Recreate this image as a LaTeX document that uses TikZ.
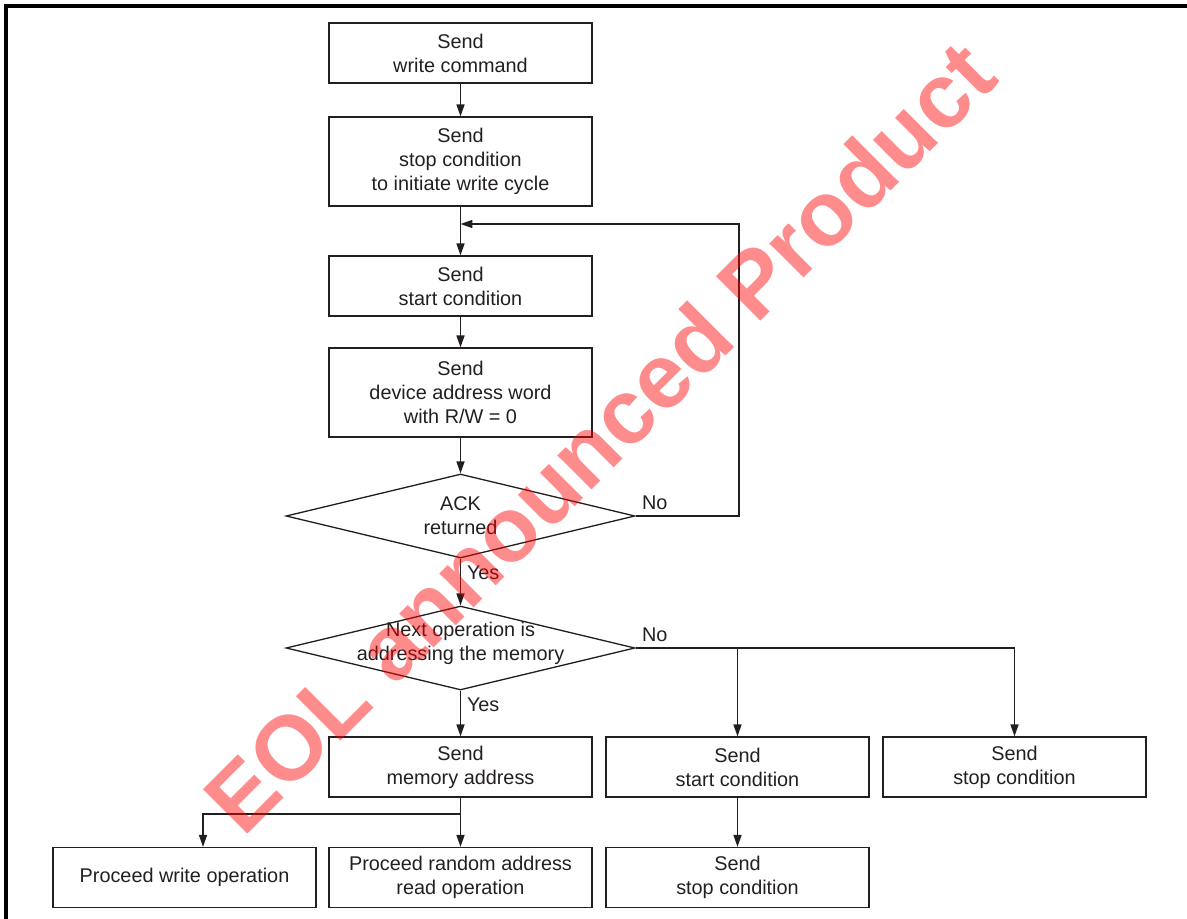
\documentclass[tikz,border=0pt]{standalone}
\usepackage{fontspec}
\setmainfont{Liberation Sans}
\usetikzlibrary{shapes.geometric,arrows.meta}
\definecolor{ink}{HTML}{231F20}
\begin{document}
\begin{tikzpicture}[x=0.02cm,y=-0.02cm,->,>={Triangle[length=6.8pt,width=4.6pt]},
  color=ink,line width=0.75pt,font=\fontsize{11.3}{13.7}\selectfont,
  box/.style={rectangle,draw,align=center,minimum width=5.26cm,minimum height=1.2cm,inner sep=2pt},
  tall box/.style={box,minimum height=1.78cm},
  decision/.style={diamond,draw,minimum width=6.98cm,minimum height=1.68cm,inner sep=0pt},
  dtext/.style={align=center,inner sep=0pt}]
  \useasboundingbox (0,0) rectangle (1187,919);
%frame
  \draw[-,line width=2.2pt,black] (6,919) -- (6,6) -- (1187,6);
%main column
  \node[box] (b1) at (460.5,53) {Send\\write command};
  \node[tall box] (b2) at (460.5,161.5) {Send\\stop condition\\to initiate write cycle};
  \node[box] (b3) at (460.5,286) {Send\\start condition};
  \node[tall box] (b4) at (460.5,392.5) {Send\\device address word\\with R/W = 0};
%decisions
  \node[decision] (d1) at (460.5,516) {};
  \node[dtext] (d1t) at (d1) {ACK\\returned};
  \node[above right] (no1) at (d1.east) {No};
  \node[decision] (d2) at (460.5,648) {};
  \node[dtext] (d2t) at (460.5,643) {Next operation is\\addressing the memory};
  \node[above right] (no2) at (d2.east) {No};
%bottom rows
  \node[box] (mem) at (460.5,767) {Send\\memory address};
  \node[box] (start) at (737.5,767) {Send\\start condition};
  \node[box] (stop) at (1014.5,767) {Send\\stop condition};
  \node[box] (write) at (184.5,877.5) {Proceed write operation};
  \node[box] (read) at (460.5,877.5) {Proceed random address\\read operation};
  \node[box] (stop2) at (737.5,877.5) {Send\\stop condition};
%paths
  \coordinate (mrg) at (460.5,224);
  \coordinate (lp) at (739,224);
  \coordinate (br) at (203,814);
  \path (b1) edge (b2)
    (b2) edge (b3)
    (b3) edge (b4)
    (b4) edge (d1)
    (d1) edge node[right,pos=.3] {Yes} (d2)
    (d2) edge node[right,pos=.3] {Yes} (mem)
    (mem) edge (read)
    (start) edge (stop2);
  \draw (d1.east) -| (lp) -- (mrg);
  \draw (d2.east) -| (stop);
  \draw (d2.east -| start.north) -- (start.north);
  \draw (mem.south |- br) -- (br) -- (br |- write.north);
%watermark
  \node[rotate=45,anchor=base,text=red,text opacity=.45,
    font=\fontsize{52}{52}\bfseries\selectfont] (eol) at (622,460) {EOL announced Product};
\end{tikzpicture}
\end{document}
